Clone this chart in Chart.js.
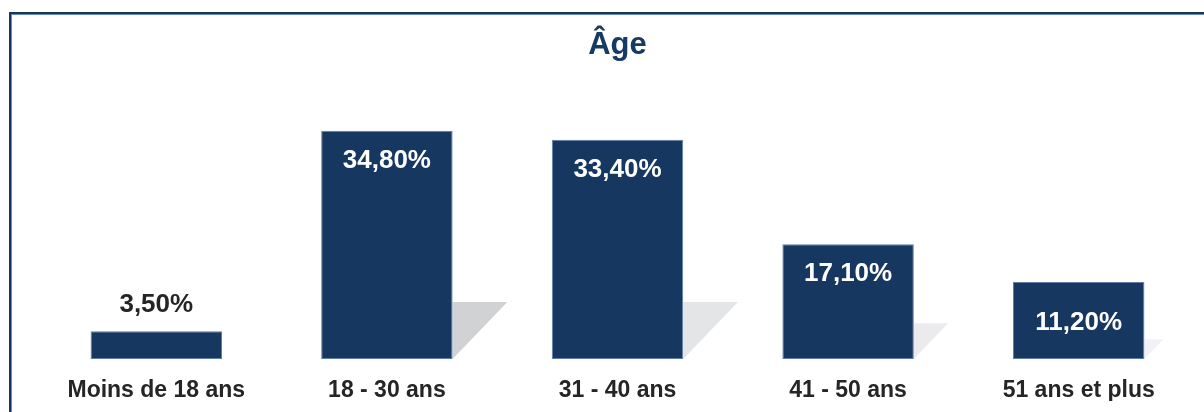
<!DOCTYPE html>
<html>
<head>
    <title>Âge</title>
    <style>
        body { margin: 0; background: #fff; }
        .frame {
            position: relative;
            width: 1204px;
            height: 412px;
        }
        /* dark blue frame on the left and top */
        .frame-border {
            position: absolute;
            left: 9px;
            top: 12px;
            right: 0;
            bottom: 0;
            border-left: 2px solid #15365f;
            border-top: 2px solid #15365f;
            box-shadow: inset 1px 1px 0 #6a88b0;
            pointer-events: none;
        }
    </style>
    <script src="https://cdn.jsdelivr.net/npm/chart.js"></script>
</head>
<body>
    <div class="frame">
        <canvas id="ageChart" width="1204" height="412"></canvas>
        <div class="frame-border"></div>
    </div>

    <script>
        // Age groups and shares (%)
        const categories = ['Moins de 18 ans', '18 - 30 ans', '31 - 40 ans', '41 - 50 ans', '51 ans et plus'];
        const values = [3.5, 34.8, 33.4, 17.1, 11.2];

        const navy = '#16375f';
        const formatPct = v => v.toFixed(2).replace('.', ',') + '%';

        // Grey drop shadow to the right of each bar
        const shadowPlugin = {
            id: 'barShadow',
            beforeDatasetsDraw(chart, args, opts) {
                const ctx = chart.ctx;
                const meta = chart.getDatasetMeta(0);
                meta.data.forEach((bar, i) => {
                    const right = bar.x + bar.width / 2;
                    const h = bar.base - bar.y;
                    const s = Math.min(57, Math.max(0, (h - 30) * 0.42));
                    if (s <= 0) return;
                    ctx.save();
                    ctx.fillStyle = opts.colors[i];
                    ctx.beginPath();
                    ctx.moveTo(right, bar.base - s);
                    ctx.lineTo(right + s * 0.96, bar.base - s);
                    ctx.lineTo(right, bar.base);
                    ctx.closePath();
                    ctx.fill();
                    ctx.restore();
                });
            }
        };

        // Percentage labels: inside the bar (centred if the bar is short), or above it when tiny
        const labelPlugin = {
            id: 'barLabels',
            afterDatasetsDraw(chart) {
                const ctx = chart.ctx;
                const meta = chart.getDatasetMeta(0);
                ctx.save();
                ctx.font = 'bold 26px "Liberation Sans", Arial, sans-serif';
                ctx.textAlign = 'center';
                ctx.textBaseline = 'middle';
                meta.data.forEach((bar, i) => {
                    const h = bar.base - bar.y;
                    const text = formatPct(values[i]);
                    if (h < 50) {
                        ctx.fillStyle = '#252525';
                        ctx.fillText(text, bar.x, bar.y - 26);
                    } else {
                        ctx.fillStyle = '#ffffff';
                        ctx.fillText(text, bar.x, bar.y + (h < 90 ? h / 2 + 2 : 30));
                    }
                });
                ctx.restore();
            }
        };

        const ctx = document.getElementById('ageChart').getContext('2d');
        new Chart(ctx, {
            type: 'bar',
            data: {
                labels: categories,
                datasets: [{
                    data: values,
                    base: -0.85,
                    backgroundColor: navy,
                    borderColor: '#5f7fa9',
                    borderWidth: 1,
                    borderSkipped: false,
                    categoryPercentage: 1,
                    barPercentage: 0.57
                }]
            },
            options: {
                responsive: false,
                animation: false,
                layout: {
                    padding: { left: 41, right: 10, top: 0, bottom: 11 }
                },
                scales: {
                    x: {
                        grid: { display: false, drawTicks: false },
                        border: { display: false },
                        afterFit(scale) { scale.height = 42; },
                        ticks: {
                            color: '#252525',
                            padding: 18,
                            font: { family: '"Liberation Sans", Arial, sans-serif', size: 23, weight: 'bold' }
                        }
                    },
                    y: {
                        display: false,
                        min: -0.85,
                        max: 41
                    }
                },
                plugins: {
                    legend: { display: false },
                    tooltip: { enabled: false },
                    title: {
                        display: true,
                        text: 'Âge',
                        color: '#173a63',
                        padding: { top: 27, bottom: 27 },
                        font: { family: '"Liberation Sans", Arial, sans-serif', size: 31, weight: 'bold' }
                    },
                    barShadow: {
                        colors: ['#e6e7e9', '#d1d2d4', '#e4e5e7', '#ebebee', '#f1f2f5']
                    }
                }
            },
            plugins: [shadowPlugin, labelPlugin]
        });
    </script>
</body>
</html>
